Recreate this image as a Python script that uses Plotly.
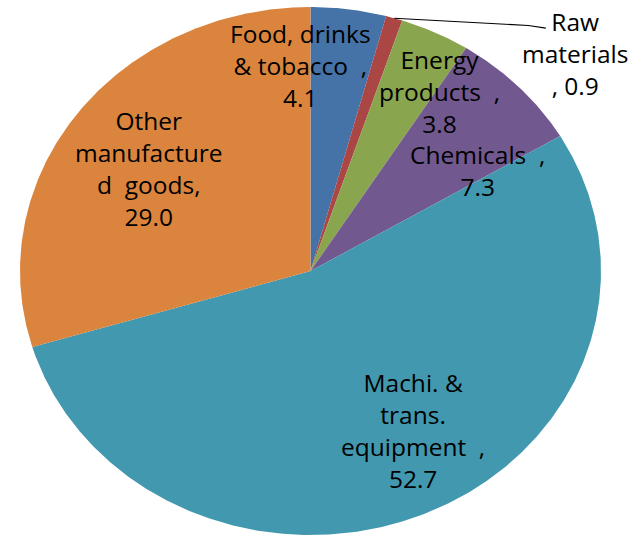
import numpy as np
import plotly.graph_objects as go

# Export structure by product group (share, %)
categories = ["Food, drinks & tobacco", "Raw materials", "Energy products",
              "Chemicals", "Machi. & trans. equipment", "Other manufactured goods"]
values = [4.1, 0.9, 3.8, 7.3, 52.7, 29.0]
label_texts = ["Food, drinks<br>& tobacco  ,<br>4.1",
               "Raw<br>materials<br>, 0.9",
               "Energy<br>products  ,<br>3.8",
               "Chemicals  ,<br>7.3",
               "Machi. &<br>trans.<br>equipment  ,<br>52.7",
               "Other<br>manufacture<br>d  goods,<br>29.0"]
colors = ["#4572A7", "#AA4643", "#89A54E", "#71588F", "#4198AF", "#DB843D"]

# Label anchor positions in the unit-pie coordinate system
label_pos = [(-0.036, 0.777), (0.912, 0.822), (0.444, 0.680),
             (0.576, 0.380), (0.353, -0.606), (-0.556, 0.390)]
raw_label_anchor = [(0.75, 0.93), (0.81, 0.92)]

fig = go.Figure()

total = sum(values)
start = 0.0
mid_angles = []
for name, v, c in zip(categories, values, colors):
    span = v / total * 2 * np.pi
    theta = np.linspace(start, start + span, max(int(span / (2 * np.pi) * 720), 4))
    xs = np.concatenate([[0.0], np.sin(theta), [0.0]])
    ys = np.concatenate([[0.0], np.cos(theta), [0.0]])
    fig.add_trace(go.Scatter(x=xs, y=ys, mode="lines", fill="toself",
                             fillcolor=c, line=dict(width=0, color=c),
                             name=name, hoveron="fills",
                             text=f"{name}: {v}", hoverinfo="text"))
    mid_angles.append(start + span / 2)
    start += span

# Leader line for the small "Raw materials" slice
a = mid_angles[1]
lx = [np.sin(a)] + [p[0] for p in raw_label_anchor]
ly = [np.cos(a)] + [p[1] for p in raw_label_anchor]
fig.add_trace(go.Scatter(x=lx, y=ly, mode="lines",
                         line=dict(color="black", width=1.1), hoverinfo="skip"))

for txt, (x, y) in zip(label_texts, label_pos):
    fig.add_annotation(x=x, y=y, text=txt, showarrow=False,
                       xanchor="center", yanchor="middle", align="center",
                       font=dict(family="Open Sans", size=24.5, color="black"))

W, H = 636, 535
cx, cy, rx, ry = 310.5, 271.0, 290.5, 264.0
fig.update_layout(
    width=W, height=H,
    margin=dict(l=0, r=0, t=0, b=0),
    paper_bgcolor="white", plot_bgcolor="white",
    showlegend=False,
    xaxis=dict(range=[-cx / rx, (W - cx) / rx], visible=False, fixedrange=True),
    yaxis=dict(range=[(cy - H) / ry, cy / ry], visible=False, fixedrange=True),
)

fig.write_html("out.html")
